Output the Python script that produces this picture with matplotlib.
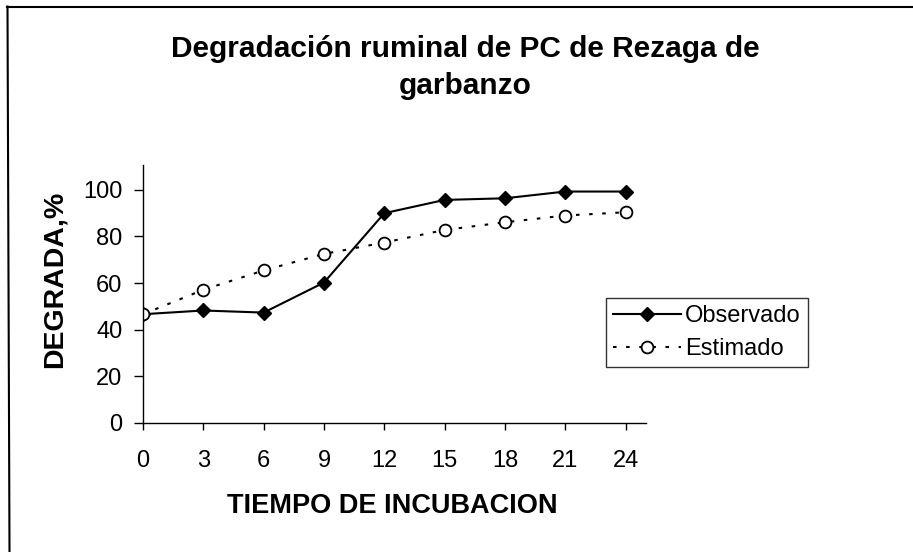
import matplotlib.pyplot as plt
from matplotlib.lines import Line2D

plt.rcParams['font.family'] = ['Liberation Sans', 'DejaVu Sans']

# data
horas = [0, 3, 6, 9, 12, 15, 18, 21, 24]
observado = [46.6, 48.2, 47.3, 60.2, 90.0, 95.7, 96.4, 99.3, 99.3]
estimado = [46.6, 57.1, 65.4, 72.5, 77.4, 82.8, 86.1, 89.0, 90.4]
yticks = [0, 20, 40, 60, 80, 100]

W, H = 913, 552
fig = plt.figure(figsize=(W / 100, H / 100), dpi=100)
ax = fig.add_axes([143 / W, 1 - 422.7 / H, 502.7 / W, 257.7 / H])

ax.plot(horas, observado, color='black', lw=1.5, marker='D', markersize=7.5,
        markerfacecolor='black', markeredgecolor='black', label='Observado')
ax.plot(horas, estimado, color='black', lw=1.5, ls=(0, (1.7, 4.6)), marker='o',
        markersize=8.5, markerfacecolor='white', markeredgecolor='black',
        markeredgewidth=1.3, label='Estimado')

ax.set_xlim(0, 25)
ax.set_ylim(0, 110.7)
ax.set_xticks(horas)
ax.set_yticks(yticks)
ax.spines['top'].set_visible(False)
ax.spines['right'].set_visible(False)
for s in ['left', 'bottom']:
    ax.spines[s].set_linewidth(1)
ax.tick_params(labelsize=17, direction='out', width=1)
ax.tick_params(axis='x', length=5, pad=14.4)
ax.tick_params(axis='y', length=6.5, pad=8.3)

# axis titles placed by baseline, as measured on the reference
fig.text(392.5 / W, 1 - 513 / H, 'TIEMPO DE INCUBACION', ha='center', va='baseline',
         fontsize=19.5, fontweight='bold')
fig.text(61.7 / W, 1 - 279 / H, 'DEGRADA,%', ha='center', va='baseline',
         rotation=90, rotation_mode='anchor', fontsize=20.5, fontweight='bold')

fig.text(465 / W, 1 - 57 / H, 'Degradación ruminal de PC de Rezaga de',
         ha='center', va='baseline', fontsize=21.5, fontweight='bold')
fig.text(465 / W, 1 - 93.5 / H, 'garbanzo',
         ha='center', va='baseline', fontsize=21.5, fontweight='bold')

leg = fig.legend(loc='upper left', bbox_to_anchor=(605.7 / W, 1 - 298 / H),
                 borderaxespad=0, fontsize=17, frameon=True, fancybox=False,
                 handlelength=2.9, handletextpad=0.15, borderpad=0.3,
                 labelspacing=0.47)
leg.get_frame().set_edgecolor('black')
leg.get_frame().set_linewidth(1)

# outer chart frame (only top and left edges visible in the scan)
fig.add_artist(Line2D([7 / W, 1.0], [1 - 6.5 / H, 1 - 6.5 / H], color='black',
                      lw=1.5, transform=fig.transFigure))
fig.add_artist(Line2D([7.5 / W, 9.5 / W], [1 - 6.5 / H, 0.0], color='black',
                      lw=1.5, transform=fig.transFigure))

fig.savefig('out.png', dpi=100)
